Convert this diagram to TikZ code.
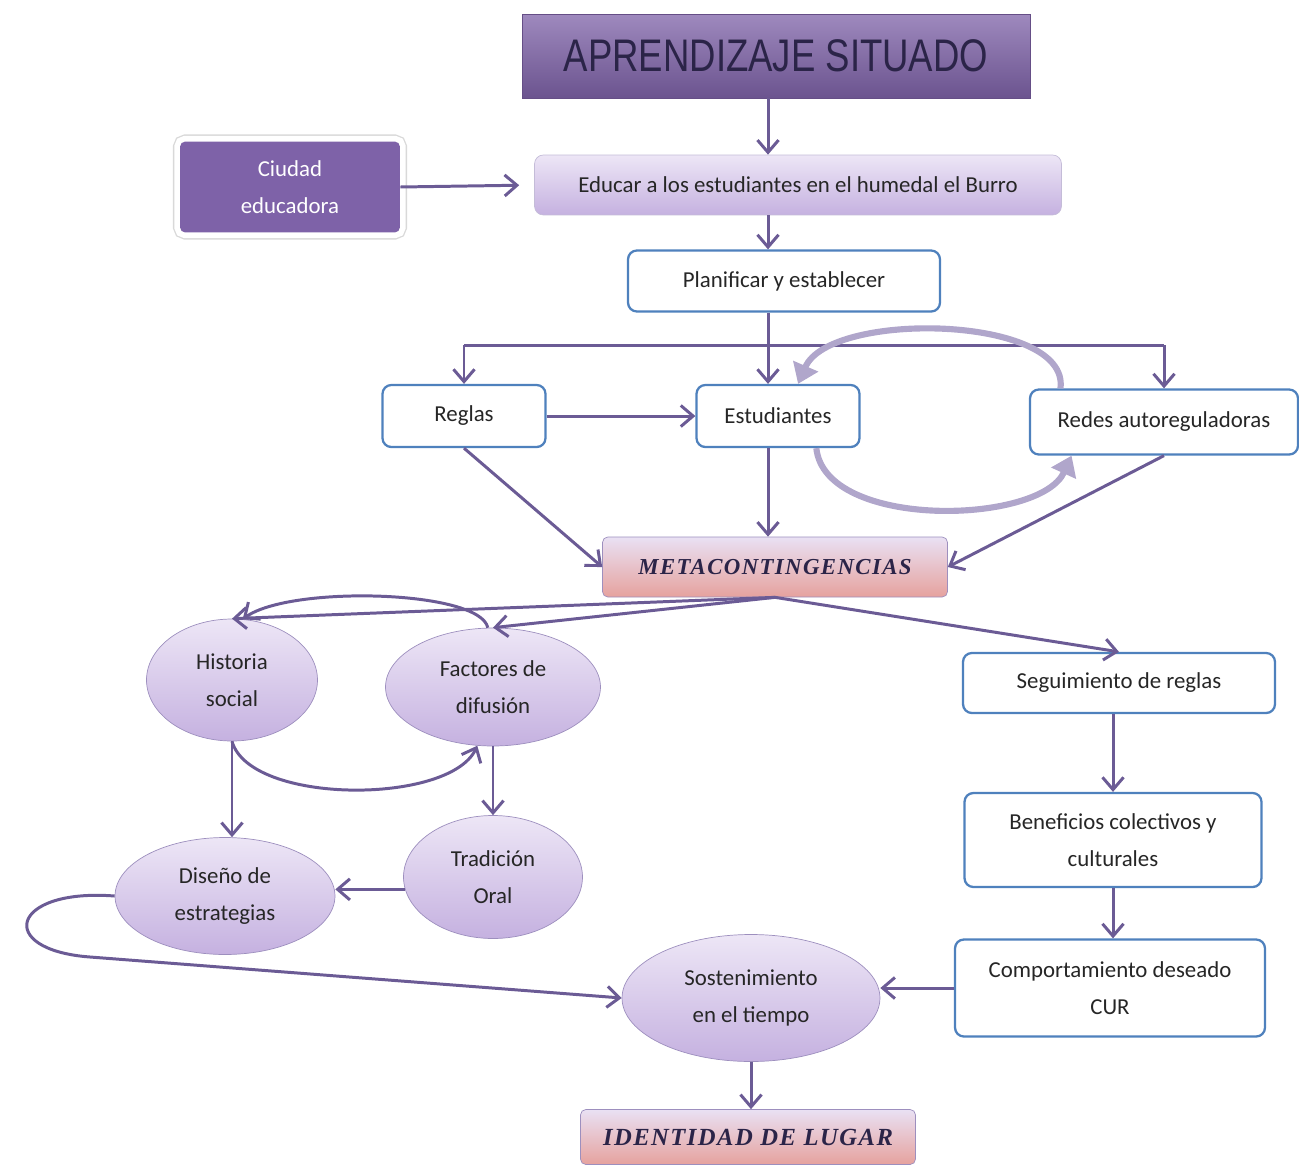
\documentclass[tikz,border=0pt]{standalone}
\usepackage{fontspec}
\setmainfont{Carlito}
\newfontfamily\titlefont[FakeStretch=0.8]{Liberation Sans}
\newfontfamily\metafont[LetterSpace=6]{Liberation Serif}
\usetikzlibrary{arrows.meta,shapes.geometric}

\definecolor{colflecha}{HTML}{6B5B95}
\definecolor{azulborde}{HTML}{4F81BD}
\definecolor{morado}{HTML}{7E62A8}
\definecolor{lila}{HTML}{EDE6F6}
\definecolor{lilaosc}{HTML}{C5B1E0}
\definecolor{lilaborde}{HTML}{9D8FBE}
\definecolor{salmon}{HTML}{E6A29E}
\definecolor{colbucle}{HTML}{B0A6CB}
\definecolor{textoosc}{HTML}{2B2448}

\tikzset{
  texto/.style={font=\fontsize{13}{21}\selectfont, text=black!85},
  flecha/.style={draw=colflecha, line width=1.7pt, -{Straight Barb[length=7pt,width=12pt]}},
  linea/.style={draw=colflecha, line width=1.7pt},
  bucle/.style={draw=colbucle, line width=3.5pt, -{Triangle[length=11pt,width=15pt]}},
  caja/.style={texto, draw=azulborde, line width=1.3pt, rounded corners=5pt, fill=white, align=center},
  lilacaja/.style={texto, draw=lilaborde!60, rounded corners=5pt, top color=lila, bottom color=lilaosc, align=center},
  ovalo/.style={texto, ellipse, draw=lilaborde, inner sep=0pt, top color=lila, bottom color=lilaosc, align=center},
  meta/.style={draw=lilaborde, rounded corners=3pt, top color=lila!90!lilaosc, middle color=lila!70!lilaosc, bottom color=salmon, text=textoosc, font=\metafont\bfseries\itshape\fontsize{13}{16}\selectfont},
  titulo/.style={draw=morado!80!black, top color=morado!75!white, bottom color=morado!85!black, text=textoosc, font=\titlefont\fontsize{26}{28}\selectfont},
  ciudad/.style={texto, text=white, fill=morado, rounded corners=3pt, align=center,
    preaction={draw=black!15, line width=8pt}, preaction={draw=white, line width=6.5pt}}
}

\begin{document}
\begin{tikzpicture}[x=0.02cm, y=-0.02cm]
    \useasboundingbox (0,0) rectangle (1299,1167);
    % Parte superior
    \node[titulo, minimum width=10.16cm, minimum height=1.68cm] (titulo) at (776,56) {APRENDIZAJE SITUADO};
    \node[ciudad, minimum width=4.4cm, minimum height=1.82cm] (ciudad) at (290,187) {Ciudad\\educadora};
    \node[lilacaja, minimum width=10.54cm, minimum height=1.2cm] (educar) at (798,185) {Educar a los estudiantes en el humedal el Burro};
    \node[caja, minimum width=6.24cm, minimum height=1.22cm] (plan) at (784,281) {Planificar y establecer};
    \node[caja, minimum width=3.26cm, minimum height=1.24cm] (reglas) at (464,416) {Reglas};
    \node[caja, minimum width=3.26cm, minimum height=1.24cm] (est) at (778,416) {Estudiantes};
    \node[caja, minimum width=5.36cm, minimum height=1.3cm] (redes) at (1164,422) {Redes autoreguladoras};
    \node[meta, minimum width=6.9cm, minimum height=1.2cm] (meta) at (775,567) {METACONTINGENCIAS};
    % Lado izquierdo
    \node[ovalo, minimum width=3.42cm, minimum height=2.44cm] (hist) at (232,680) {Historia\\social};
    \node[ovalo, minimum width=4.3cm, minimum height=2.36cm] (fact) at (493,687) {Factores de\\difusión};
    \node[ovalo, minimum width=3.58cm, minimum height=2.46cm] (trad) at (493,877) {Tradición\\Oral};
    \node[ovalo, minimum width=4.4cm, minimum height=2.34cm] (dis) at (225,896) {Diseño de\\estrategias};
    \node[ovalo, minimum width=5.16cm, minimum height=2.54cm] (sost) at (751,998) {Sostenimiento\\en el tiempo};
    % Lado derecho
    \node[caja, minimum width=6.24cm, minimum height=1.2cm] (seg) at (1119,683) {Seguimiento de reglas};
    \node[caja, minimum width=5.94cm, minimum height=1.88cm] (ben) at (1113,840) {Beneficios colectivos y\\culturales};
    \node[caja, minimum width=6.2cm, minimum height=1.94cm] (comp) at (1110,988) {Comportamiento deseado\\CUR};
    \node[meta, font=\metafont\bfseries\itshape\fontsize{14}{17}\selectfont, minimum width=6.7cm, minimum height=1.1cm] (ident) at (748,1137) {IDENTIDAD DE LUGAR};

    % Eje central y barra
    \coordinate (eje) at (768,0);
    \coordinate (barI) at (464,345);
    \draw[flecha] (titulo.south -| eje) -- (educar.north -| eje);
    \draw[flecha, shorten >=0.3cm] (ciudad.east) -- (educar.west);
    \draw[flecha] (educar.south -| eje) -- (plan.north -| eje);
    \draw[flecha] (plan.south -| eje) -- (est.north -| eje);
    \draw[linea] (barI) -- (barI -| redes.north);
    \draw[flecha] (barI) -- (reglas.north);
    \draw[flecha] (barI -| redes.north) -- (redes.north);
    \draw[flecha] (reglas.east) -- (est.west);
    % Ciclo estudiantes - redes
    \draw[bucle] (est.-40) .. controls (825,530) and (1040,525) .. (redes.200);
    \draw[bucle] (redes.162) .. controls (1070,315) and (830,310) .. (est.58);
    % Hacia metacontingencias
    \draw[flecha] (reglas.south) -- (meta.west);
    \draw[flecha] (est.south -| eje) -- (meta.north -| eje);
    \draw[flecha] (redes.south) -- (meta.east);
    \draw[flecha] (meta.south) -- (hist.north);
    \draw[flecha] (meta.south) -- (fact.north);
    \draw[flecha] (meta.south) -- (seg.north);
    % Ciclo historia - factores
    \draw[flecha] (fact.95) .. controls (480,590) and (290,585) .. (hist.80);
    \draw[flecha] (hist.south) .. controls (250,805) and (450,805) .. (fact.255);
    \draw[flecha] (hist.south) -- (hist.south |- dis.north);
    \draw[flecha] (fact.south) -- (trad.north);
    \draw[flecha] (trad.188) -- (trad.188 -| dis.east);
    \draw[flecha] (dis.west) .. controls (10,888) and (-5,950) .. (90,957) -- (sost.west);
    % Columna derecha
    \draw[flecha] (seg.south -| ben.north) -- (ben.north);
    \draw[flecha] (ben.south) -- (ben.south |- comp.north);
    \draw[flecha] (comp.west) -- (comp.west -| sost.east);
    \draw[flecha] (sost.south) -- (sost.south |- ident.north);
\end{tikzpicture}
\end{document}
